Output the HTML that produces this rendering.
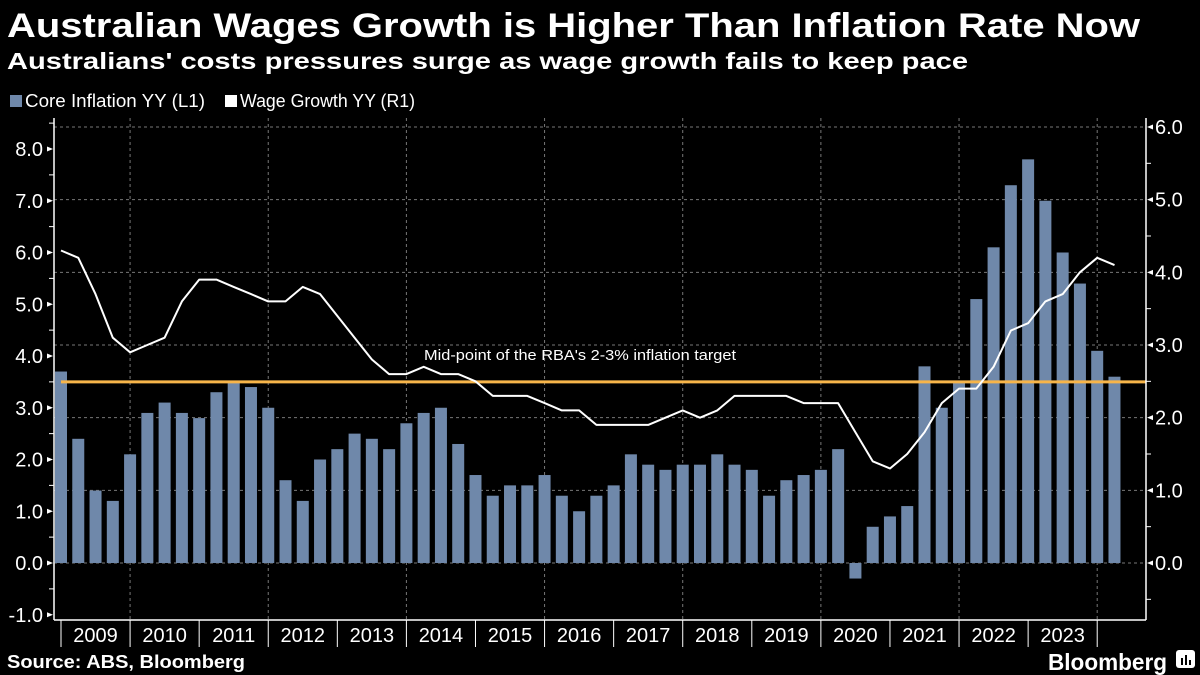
<!DOCTYPE html>
<html><head><meta charset="utf-8"><style>
html,body{margin:0;padding:0;background:#000;}
svg{display:block;font-family:"Liberation Sans",sans-serif;}
</style></head><body>
<svg id="chart" width="1200" height="675" viewBox="0 0 1200 675">
<rect x="0" y="0" width="1200" height="675" fill="#000"/>
<text x="7" y="37" fill="#fff" font-size="34" font-weight="bold" textLength="1133" lengthAdjust="spacingAndGlyphs">Australian Wages Growth is Higher Than Inflation Rate Now</text>
<text x="7" y="69" fill="#fff" font-size="23" font-weight="bold" textLength="961" lengthAdjust="spacingAndGlyphs">Australians' costs pressures surge as wage growth fails to keep pace</text>
<g>
<rect x="10" y="95" width="12" height="12" fill="#6f88aa"/>
<text x="25" y="107" fill="#fff" font-size="18" textLength="180" lengthAdjust="spacingAndGlyphs">Core Inflation YY (L1)</text>
<rect x="225" y="95" width="12" height="12" fill="#fff"/>
<text x="240" y="107" fill="#fff" font-size="18" textLength="175" lengthAdjust="spacingAndGlyphs">Wage Growth YY (R1)</text>
</g>
<g id="grid"></g>
<g id="bars"></g>
<g id="target"></g>
<g id="line"></g>
<g id="axes"></g>
<text x="7" y="668" fill="#fff" font-size="18" font-weight="bold" textLength="238" lengthAdjust="spacingAndGlyphs">Source: ABS, Bloomberg</text>
<text x="1048" y="670" fill="#fff" font-size="23" font-weight="bold" textLength="119" lengthAdjust="spacingAndGlyphs">Bloomberg</text>
<g>
<rect x="1176" y="650" width="19" height="18" rx="3" fill="#fff"/>
<rect x="1181" y="658" width="2" height="7" fill="#000"/><rect x="1185" y="655" width="2" height="10" fill="#000"/><rect x="1189" y="660" width="2" height="5" fill="#000"/>
</g>
</svg>
<script>
const years = ["2009","2010","2011","2012","2013","2014","2015","2016","2017","2018","2019","2020","2021","2022","2023"];
const coreInflation = [3.7,2.4,1.4,1.2,2.1,2.9,3.1,2.9,2.8,3.3,3.5,3.4,3.0,1.6,1.2,2.0,2.2,2.5,2.4,2.2,2.7,2.9,3.0,2.3,1.7,1.3,1.5,1.5,1.7,1.3,1.0,1.3,1.5,2.1,1.9,1.8,1.9,1.9,2.1,1.9,1.8,1.3,1.6,1.7,1.8,2.2,-0.3,0.7,0.9,1.1,3.8,3.0,3.5,5.1,6.1,7.3,7.8,7.0,6.0,5.4,4.1,3.6];
const wageGrowth = [4.3,4.2,3.7,3.1,2.9,3.0,3.1,3.6,3.9,3.9,3.8,3.7,3.6,3.6,3.8,3.7,3.4,3.1,2.8,2.6,2.6,2.7,2.6,2.6,2.5,2.3,2.3,2.3,2.2,2.1,2.1,1.9,1.9,1.9,1.9,2.0,2.1,2.0,2.1,2.3,2.3,2.3,2.3,2.2,2.2,2.2,1.8,1.4,1.3,1.5,1.8,2.2,2.4,2.4,2.7,3.2,3.3,3.6,3.7,4.0,4.2,4.1];
const leftTicks = [-1,0,1,2,3,4,5,6,7,8];
const rightTicks = [0,1,2,3,4,5,6];
const targetValue = 3.5;
const targetLabel = "Mid-point of the RBA's 2-3% inflation target";

const NS = "http://www.w3.org/2000/svg";
const X0 = 54, X1 = 1146, YB = 620, YT = 118;
function xq(i){ return 61 + 17.27 * i; }
function yL(v){ return 563 - 51.75 * v; }
function yR(v){ return 563 - 72.67 * v; }
function mk(tag, attrs, parent){
  const e = document.createElementNS(NS, tag);
  for (const k in attrs) e.setAttribute(k, attrs[k]);
  parent.appendChild(e);
  return e;
}
const grid = document.getElementById('grid');
const bars = document.getElementById('bars');
const tgt = document.getElementById('target');
const lineG = document.getElementById('line');
const axes = document.getElementById('axes');

rightTicks.forEach(v => {
  const l = mk('line', {x1:X0, x2:X1, y1:yR(v), y2:yR(v), stroke:'#777', 'stroke-width':1, 'stroke-dasharray':'3,3'}, grid);
  
  
});
for (let k = 1; k <= years.length; k += 2) {
  const x = xq(k * 4);
  const l = mk('line', {x1:x, x2:x, y1:YT, y2:YB, stroke:'#777', 'stroke-width':1, 'stroke-dasharray':'3,3'}, grid);
  
  
}
coreInflation.forEach((v, i) => {
  const y0 = yL(0), y1 = yL(v);
  const r = mk('rect', {x:xq(i) - 6, y:Math.min(y0, y1), width:12, height:Math.abs(y1 - y0), fill:'#6f88aa'}, bars);
  
  
});
const tl = mk('line', {x1:61, x2:X1, y1:yL(targetValue), y2:yL(targetValue), stroke:'#f7b54a', 'stroke-width':3}, tgt);


const tt = mk('text', {x:424, y:yL(targetValue) - 22, fill:'#fff', 'font-size':15, textLength:312, lengthAdjust:'spacingAndGlyphs'}, tgt);
tt.textContent = targetLabel;


const pts = wageGrowth.map((v, i) => xq(i).toFixed(1) + ',' + yR(v).toFixed(1)).join(' ');
const pl = mk('polyline', {points:pts, fill:'none', stroke:'#fff', 'stroke-width':2, 'stroke-linejoin':'round'}, lineG);



const la = mk('line', {x1:X0, x2:X0, y1:YT, y2:YB, stroke:'#fff', 'stroke-width':1.5}, axes);


const ra = mk('line', {x1:X1, x2:X1, y1:YT, y2:YB, stroke:'#fff', 'stroke-width':1.5}, axes);


const ba = mk('line', {x1:X0, x2:X1, y1:YB, y2:YB, stroke:'#fff', 'stroke-width':1.5}, axes);



leftTicks.forEach(v => {
  const y = yL(v);
  mk('path', {d:`M${X0-1},${y} L${X0-7},${y-2.5} L${X0-7},${y+2.5} Z`, fill:'#fff'}, axes);
  mk('line', {x1:X0-5, x2:X0, y1:yL(v+0.5), y2:yL(v+0.5), stroke:'#fff', 'stroke-width':1}, axes);
  const t = mk('text', {x:43, y:y + 7, fill:'#fff', 'font-size':20, 'text-anchor':'end'}, axes);
  t.textContent = v.toFixed(1);
  
  
});
rightTicks.forEach(v => {
  const y = yR(v);
  mk('path', {d:`M${X1+1},${y} L${X1+7},${y-2.5} L${X1+7},${y+2.5} Z`, fill:'#fff'}, axes);
  if (v < 6) mk('line', {x1:X1, x2:X1+5, y1:yR(v+0.5), y2:yR(v+0.5), stroke:'#fff', 'stroke-width':1}, axes);
  if (v === 0) mk('line', {x1:X1, x2:X1+5, y1:yR(v-0.5), y2:yR(v-0.5), stroke:'#fff', 'stroke-width':1}, axes);
  const t = mk('text', {x:1155, y:y + 7, fill:'#fff', 'font-size':20}, axes);
  t.textContent = v.toFixed(1);
  
  
});
for (let k = 0; k <= years.length; k++) {
  const x = xq(k * 4);
  mk('line', {x1:x, x2:x, y1:YB, y2:YB + 27, stroke:'#fff', 'stroke-width':1}, axes);
}
years.forEach((y, k) => {
  const t = mk('text', {x:(xq(k*4) + xq(k*4+4)) / 2, y:642, fill:'#fff', 'font-size':20, 'text-anchor':'middle'}, axes);
  t.textContent = y;
  
  
});
</script>
</body></html>
